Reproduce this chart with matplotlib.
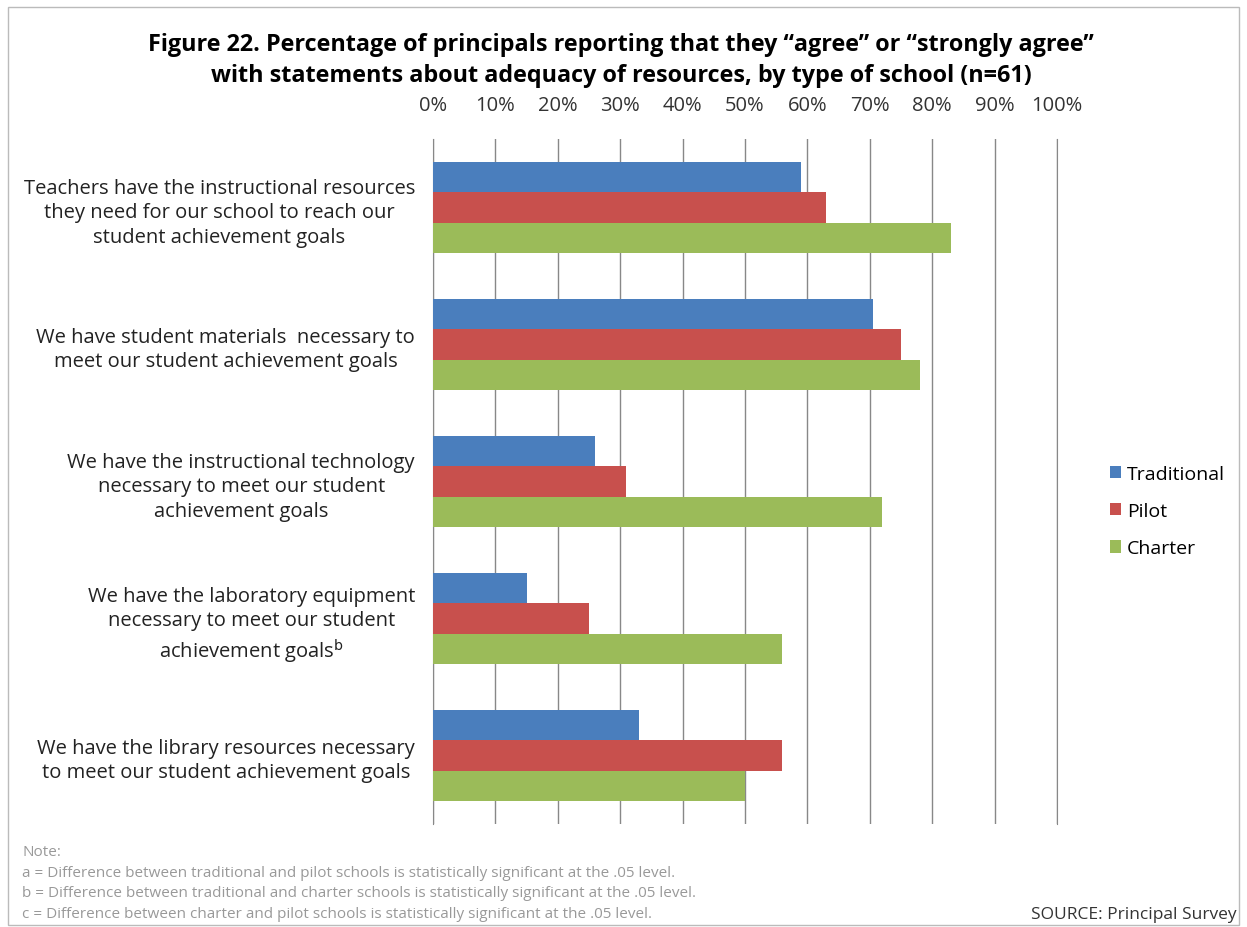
import numpy as np
import matplotlib.pyplot as plt
from matplotlib.patches import Rectangle

plt.rcParams['font.family'] = ['Open Sans', 'DejaVu Sans']
plt.rcParams['mathtext.fontset'] = 'dejavusans'

statements = [
    'Teachers have the instructional resources\nthey need for our school to reach our\nstudent achievement goals',
    'We have student materials  necessary to\nmeet our student achievement goals',
    'We have the instructional technology\nnecessary to meet our student\nachievement goals',
    'We have the laboratory equipment\nnecessary to meet our student\nachievement goals$^{\\mathsf{b}}$',
    'We have the library resources necessary\nto meet our student achievement goals',
]
traditional = [59, 70.5, 26, 15, 33]
pilot = [63, 75, 31, 25, 56]
charter = [83, 78, 72, 56, 50]
series_names = ['Traditional', 'Pilot', 'Charter']
colors = ['#4A7EBD', '#C8504D', '#9BBB59']

fig = plt.figure(figsize=(12.47, 9.28), dpi=100)
ax = fig.add_axes([433/1247, 1 - 825/928, 624/1247, 685/928])

y = np.arange(len(statements))
h = 0.222
for k, (vals, c, name) in enumerate(zip([traditional, pilot, charter], colors, series_names)):
    ax.barh(y + (k - 1) * h, vals, height=h, color=c, label=name, zorder=3)

ax.set_xlim(0, 100)
ax.set_ylim(len(statements) - 0.5, -0.5)
ax.set_xticks(np.arange(0, 101, 10))
ax.set_xticklabels([f'{t}%' for t in range(0, 101, 10)], fontsize=14.5, color='#333333')
ax.xaxis.tick_top()
ax.tick_params(axis='x', length=0, pad=17)
ax.grid(axis='x', color='#888888', linewidth=1, zorder=0)
ax.set_yticks(y)
ax.set_yticklabels(statements, fontsize=14.5, multialignment='center', linespacing=1.3,
                   color='#222222')
ax.tick_params(axis='y', length=0, pad=13)
for s in ['top', 'bottom']:
    ax.spines[s].set_visible(False)
ax.spines['left'].set_color('#888888')
ax.spines['right'].set_color('#888888')

fig.text(0.498, 1 - 45/928, 'Figure 22. Percentage of principals reporting that they \u201cagree\u201d or \u201cstrongly agree\u201d',
         ha='center', va='center', fontsize=16.8, fontweight='bold')
fig.text(0.498, 1 - 76/928, 'with statements about adequacy of resources, by type of school (n=61)',
         ha='center', va='center', fontsize=16.8, fontweight='bold')

fig.legend(loc='center left', bbox_to_anchor=(1092/1247, 1 - 512/928), frameon=False,
           fontsize=14, handlelength=0.6, handleheight=0.6, handletextpad=0.3,
           labelspacing=1.0)

notes = [
    'Note:',
    'a = Difference between traditional and pilot schools is statistically significant at the .05 level.',
    'b = Difference between traditional and charter schools is statistically significant at the .05 level.',
    'c = Difference between charter and pilot schools is statistically significant at the .05 level.',
]
for i, line in enumerate(notes):
    fig.text(22/1247, 1 - (853 + i * 20.5)/928, line, ha='left', va='center',
             fontsize=11, color='#999999')
fig.text(1237/1247, 1 - 915/928, 'SOURCE: Principal Survey', ha='right', va='center',
         fontsize=12.5, color='#333333')

fig.patches.append(Rectangle((8/1247, 2/928), 1231/1247, 918/928, transform=fig.transFigure,
                             fill=False, edgecolor='#BBBBBB', linewidth=1))

fig.savefig('out.png', dpi=100)
